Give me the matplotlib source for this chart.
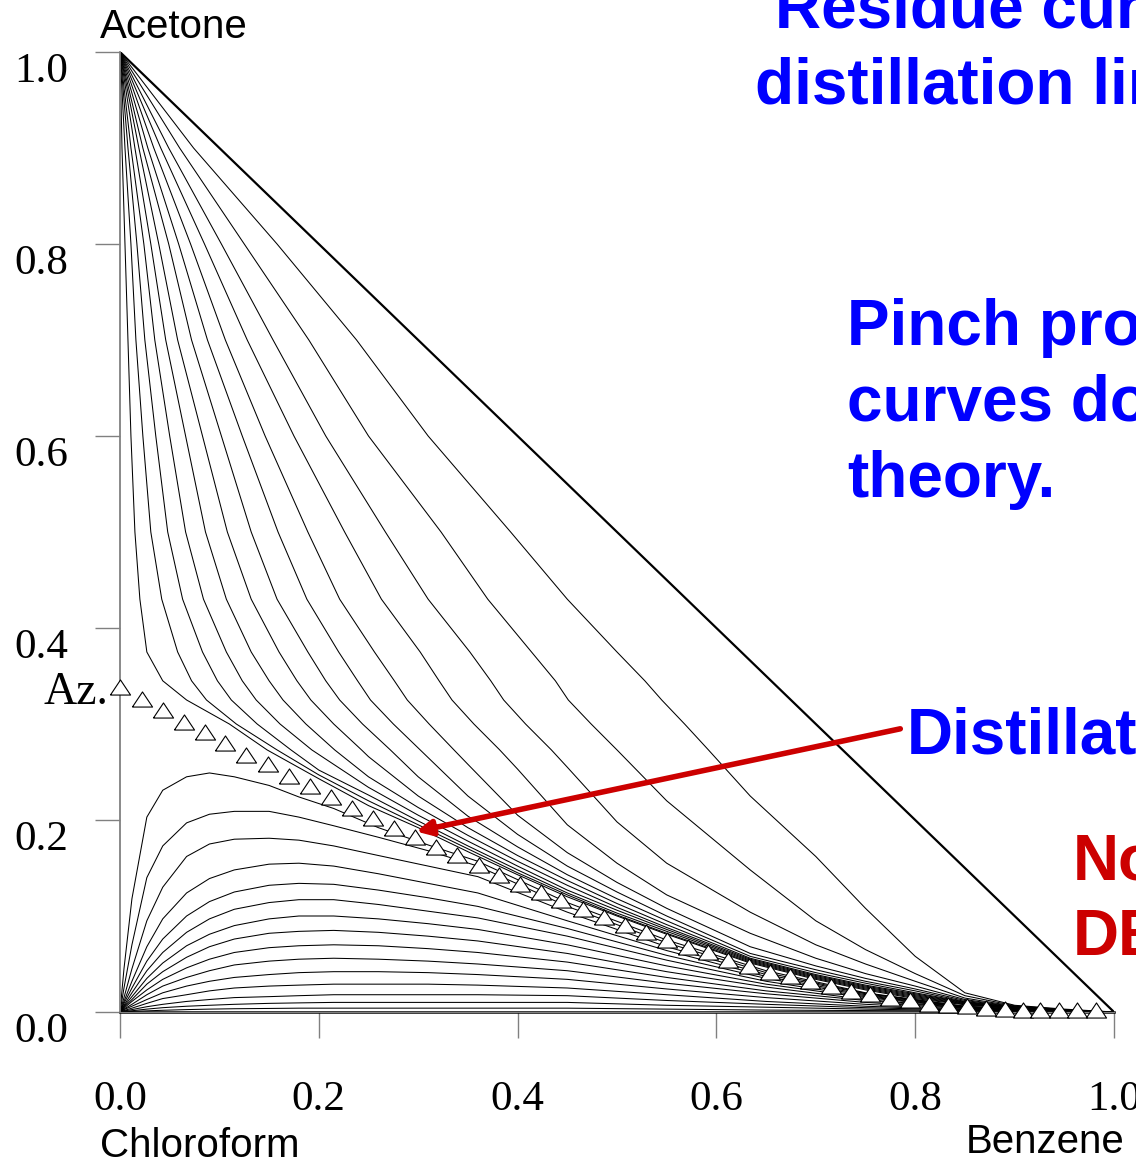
import matplotlib
matplotlib.use('Agg')
import matplotlib.pyplot as plt
import numpy as np

# distillation boundary points (triangles): benzene fraction, acetone fraction
bound_x = [0.0, 0.022, 0.043, 0.064, 0.086, 0.106, 0.127, 0.149, 0.170, 0.191, 0.212, 0.233,
           0.255, 0.276, 0.297, 0.318, 0.339, 0.361, 0.381, 0.402, 0.424, 0.444, 0.466, 0.487,
           0.508, 0.529, 0.550, 0.571, 0.592, 0.612, 0.633, 0.654, 0.674, 0.694, 0.715, 0.735,
           0.755, 0.775, 0.795, 0.814, 0.833, 0.852, 0.871, 0.890, 0.908, 0.926, 0.945, 0.963, 0.982]
bound_y = [0.339, 0.326, 0.315, 0.302, 0.292, 0.280, 0.268, 0.258, 0.246, 0.235, 0.224, 0.212,
           0.202, 0.192, 0.182, 0.172, 0.164, 0.153, 0.143, 0.133, 0.125, 0.117, 0.107, 0.099,
           0.091, 0.083, 0.075, 0.068, 0.062, 0.054, 0.048, 0.042, 0.038, 0.032, 0.027, 0.022,
           0.019, 0.015, 0.013, 0.008, 0.007, 0.006, 0.004, 0.003, 0.002, 0.002, 0.002, 0.002, 0.002]

# residue curves leaving acetone
# upper part: benzene fraction read at fixed acetone levels
acet_y_levels = [1.0, 0.9, 0.8, 0.7, 0.6, 0.5, 0.43, 0.375, 0.345, 0.325, 0.3, 0.273]
acet_upper = [
    [0, 0.002, 0.005, 0.008, 0.011, 0.015, 0.020, 0.027, 0.043, 0.067, 0.110, 0.148],
    [0, 0.005, 0.011, 0.016, 0.023, 0.031, 0.042, 0.058, 0.072, 0.087, 0.117, 0.158],
    [0, 0.008, 0.017, 0.025, 0.036, 0.048, 0.063, 0.083, 0.098, 0.112, 0.138, 0.172],
    [0, 0.011, 0.024, 0.035, 0.050, 0.066, 0.084, 0.107, 0.123, 0.137, 0.161, 0.193],
    [0, 0.015, 0.031, 0.046, 0.066, 0.086, 0.107, 0.132, 0.150, 0.164, 0.187, 0.216],
    [0, 0.019, 0.039, 0.058, 0.083, 0.108, 0.132, 0.160, 0.178, 0.192, 0.215, 0.243],
    [0, 0.023, 0.049, 0.072, 0.102, 0.132, 0.158, 0.189, 0.207, 0.221, 0.244, 0.272],
    [0, 0.028, 0.059, 0.088, 0.123, 0.159, 0.188, 0.220, 0.239, 0.252, 0.275, 0.302],
    [0, 0.034, 0.071, 0.106, 0.146, 0.189, 0.221, 0.256, 0.276, 0.289, 0.311, 0.336],
    [0, 0.041, 0.085, 0.128, 0.175, 0.226, 0.263, 0.302, 0.321, 0.334, 0.356, 0.382],
    [0, 0.049, 0.102, 0.154, 0.207, 0.267, 0.310, 0.352, 0.373, 0.386, 0.408, 0.434],
    [0, 0.060, 0.125, 0.190, 0.250, 0.323, 0.370, 0.414, 0.438, 0.451, 0.474, 0.500],
    [0, 0.074, 0.158, 0.238, 0.310, 0.393, 0.450, 0.500, 0.528, 0.545, 0.568, 0.592],
]
# lower part: acetone fraction read at fixed benzene levels (nan = left of the upper part)
acet_x_levels = [0.2, 0.25, 0.3, 0.35, 0.4, 0.45, 0.5, 0.55, 0.634, 0.7, 0.75, 0.8,
                 0.85, 0.9, 0.95, 1.0]
nan = np.nan
acet_lower = [
    [0.243, 0.215, 0.192, 0.167, 0.143, 0.120, 0.100, 0.081, 0.051, 0.034, 0.023, 0.014, 0.0075, 0.0035, 0.0013, 0],
    [0.247, 0.220, 0.195, 0.170, 0.145, 0.122, 0.101, 0.082, 0.052, 0.035, 0.024, 0.015, 0.0080, 0.0037, 0.0014, 0],
    [0.252, 0.226, 0.199, 0.173, 0.148, 0.124, 0.103, 0.084, 0.053, 0.036, 0.025, 0.016, 0.0085, 0.0039, 0.0015, 0],
    [nan, 0.234, 0.205, 0.178, 0.152, 0.127, 0.106, 0.086, 0.054, 0.037, 0.026, 0.017, 0.0090, 0.0041, 0.0016, 0],
    [nan, 0.245, 0.213, 0.184, 0.157, 0.132, 0.109, 0.088, 0.055, 0.038, 0.027, 0.018, 0.0095, 0.0043, 0.0017, 0],
    [nan, 0.266, 0.225, 0.192, 0.163, 0.137, 0.113, 0.091, 0.056, 0.039, 0.028, 0.019, 0.0100, 0.0045, 0.0018, 0],
    [nan, nan, 0.245, 0.204, 0.172, 0.143, 0.118, 0.095, 0.058, 0.041, 0.030, 0.020, 0.0105, 0.0047, 0.0019, 0],
    [nan, nan, nan, 0.225, 0.185, 0.152, 0.125, 0.100, 0.061, 0.044, 0.032, 0.022, 0.0110, 0.0049, 0.0020, 0],
    [nan, nan, nan, 0.258, 0.205, 0.166, 0.135, 0.108, 0.068, 0.048, 0.035, 0.024, 0.0120, 0.0052, 0.0021, 0],
    [nan, nan, nan, nan, 0.253, 0.195, 0.155, 0.122, 0.082, 0.056, 0.040, 0.027, 0.0130, 0.0055, 0.0022, 0],
    [nan, nan, nan, nan, nan, 0.255, 0.198, 0.155, 0.104, 0.070, 0.050, 0.032, 0.0145, 0.0060, 0.0023, 0],
    [nan, nan, nan, nan, nan, nan, nan, 0.220, 0.148, 0.095, 0.065, 0.040, 0.0170, 0.0065, 0.0025, 0],
    [nan, nan, nan, nan, nan, nan, nan, nan, 0.225, 0.162, 0.108, 0.058, 0.0200, 0.0070, 0.0030, 0],
]

# residue curves leaving chloroform: acetone fraction read at fixed benzene levels
chl_x_levels = [0.0, 0.004, 0.012, 0.027, 0.043, 0.067, 0.09, 0.115, 0.15, 0.18, 0.215,
                0.26, 0.31, 0.36, 0.45, 0.55, 0.65, 0.75, 0.85, 0.92, 1.0]
chl_curves = [
    [0, 0.045, 0.118, 0.203, 0.231, 0.245, 0.249, 0.245, 0.236, 0.224, 0.212, 0.192, 0.174, 0.157, 0.114, 0.075, 0.043, 0.0200, 0.0060, 0.0020, 0],
    [0, 0.025, 0.070, 0.140, 0.173, 0.197, 0.206, 0.209, 0.209, 0.203, 0.194, 0.182, 0.168, 0.152, 0.110, 0.072, 0.041, 0.0195, 0.0058, 0.0020, 0],
    [0, 0.015, 0.045, 0.095, 0.130, 0.162, 0.175, 0.180, 0.181, 0.179, 0.173, 0.163, 0.152, 0.141, 0.104, 0.068, 0.039, 0.0190, 0.0056, 0.0019, 0],
    [0, 0.011, 0.032, 0.068, 0.097, 0.124, 0.139, 0.148, 0.154, 0.155, 0.152, 0.144, 0.134, 0.124, 0.095, 0.064, 0.037, 0.0180, 0.0054, 0.0018, 0],
    [0, 0.009, 0.025, 0.053, 0.076, 0.100, 0.115, 0.125, 0.132, 0.134, 0.133, 0.127, 0.119, 0.110, 0.087, 0.059, 0.035, 0.0170, 0.0052, 0.0017, 0],
    [0, 0.007, 0.020, 0.043, 0.062, 0.083, 0.097, 0.107, 0.114, 0.117, 0.117, 0.112, 0.105, 0.098, 0.079, 0.054, 0.032, 0.0160, 0.0050, 0.0016, 0],
    [0, 0.006, 0.016, 0.035, 0.051, 0.069, 0.081, 0.090, 0.097, 0.100, 0.100, 0.097, 0.092, 0.086, 0.070, 0.048, 0.029, 0.0150, 0.0047, 0.0015, 0],
    [0, 0.005, 0.013, 0.029, 0.042, 0.057, 0.068, 0.076, 0.082, 0.084, 0.085, 0.083, 0.079, 0.074, 0.061, 0.042, 0.026, 0.0130, 0.0044, 0.0014, 0],
    [0, 0.004, 0.011, 0.023, 0.034, 0.046, 0.055, 0.062, 0.067, 0.069, 0.070, 0.069, 0.066, 0.062, 0.052, 0.036, 0.022, 0.0120, 0.0040, 0.0013, 0],
    [0, 0.003, 0.008, 0.018, 0.027, 0.036, 0.043, 0.049, 0.053, 0.055, 0.056, 0.055, 0.053, 0.050, 0.043, 0.030, 0.019, 0.0100, 0.0036, 0.0012, 0],
    [0, 0.0025, 0.006, 0.013, 0.020, 0.027, 0.032, 0.036, 0.039, 0.041, 0.042, 0.042, 0.041, 0.039, 0.034, 0.024, 0.015, 0.0080, 0.0030, 0.0010, 0],
    [0, 0.0015, 0.004, 0.009, 0.014, 0.018, 0.022, 0.025, 0.027, 0.028, 0.029, 0.029, 0.029, 0.028, 0.025, 0.018, 0.011, 0.0060, 0.0025, 0.0009, 0],
    [0, 0.001, 0.0025, 0.0055, 0.008, 0.011, 0.013, 0.015, 0.016, 0.017, 0.018, 0.018, 0.018, 0.018, 0.017, 0.012, 0.008, 0.0045, 0.0020, 0.0007, 0],
    [0, 0.0005, 0.0013, 0.003, 0.0045, 0.006, 0.007, 0.008, 0.009, 0.0095, 0.010, 0.010, 0.010, 0.010, 0.010, 0.007, 0.005, 0.0030, 0.0015, 0.0005, 0],
    [0, 0.0002, 0.0006, 0.0012, 0.0018, 0.0025, 0.003, 0.0034, 0.0037, 0.004, 0.004, 0.004, 0.004, 0.004, 0.004, 0.003, 0.002, 0.0015, 0.0010, 0.0003, 0],
]

ticks = [0.0, 0.2, 0.4, 0.6, 0.8, 1.0]
tick_labels = ['0.0', '0.2', '0.4', '0.6', '0.8', '1.0']

blue = '#0000ff'
red = '#cc0000'
grey = '#808080'

fig = plt.figure(figsize=(11.36, 11.6), dpi=100)
ax = fig.add_axes([120 / 1136, 148 / 1160, 994 / 1136, 960 / 1160])
ax.set_xlim(0, 1)
ax.set_ylim(0, 1)

for up, low in zip(acet_upper, acet_lower):
    xs = list(up)
    ys = list(acet_y_levels)
    for xl, yl in zip(acet_x_levels, low):
        if not np.isnan(yl):
            xs.append(xl)
            ys.append(yl)
    ax.plot(xs, ys, color='black', lw=0.75)
for ys in chl_curves:
    ax.plot(chl_x_levels, ys, color='black', lw=0.75)

# triangle edges
ax.plot([0, 1], [1, 0], color='black', lw=1.6)
ax.plot([0, 1], [0, 0], color='black', lw=1.8, clip_on=False)

# flattened open triangle, a bit wider than tall
tri = [(-1, -0.75), (1, -0.75), (0, 0.75), (-1, -0.75)]
ax.plot(bound_x, bound_y, ls='none', marker=tri, ms=14.5, mfc='white', mec='black',
        mew=0.8, clip_on=False, zorder=5)

for s in ['top', 'right']:
    ax.spines[s].set_visible(False)
ax.spines['left'].set_color(grey)
ax.spines['left'].set_linewidth(1.3)
ax.spines['bottom'].set_color(grey)

ax.set_xticks(ticks)
ax.set_yticks(ticks)
ax.set_xticklabels(tick_labels, family='Liberation Serif', fontsize=31)
ax.set_yticklabels(tick_labels, family='Liberation Serif', fontsize=31, va='top')
ax.tick_params(axis='x', direction='out', length=19, width=1, color=grey, pad=30)
ax.tick_params(axis='y', direction='out', length=18, width=1, color=grey, pad=19)

ax.text(-0.012, 0.333, 'Az.', family='Liberation Serif', fontsize=33, ha='right', va='center')

sans = 'Liberation Sans'
fig.text(100 / 1136, 1 - 38 / 1160, 'Acetone', family=sans, fontsize=29)
fig.text(100 / 1136, 1 - 1157 / 1160, 'Chloroform', family=sans, fontsize=29)
fig.text(966 / 1136, 1 - 1153 / 1160, 'Benzene', family=sans, fontsize=29)

fig.text(775 / 1136, 1 - 28 / 1160, 'Residue cur', family=sans, fontsize=46,
         weight='bold', color=blue)
fig.text(755 / 1136, 1 - 104 / 1160, 'distillation lin', family=sans, fontsize=46,
         weight='bold', color=blue)
fig.text(847 / 1136, 1 - 345 / 1160, 'Pinch pro', family=sans, fontsize=46,
         weight='bold', color=blue)
fig.text(847 / 1136, 1 - 421 / 1160, 'curves do', family=sans, fontsize=46,
         weight='bold', color=blue)
fig.text(847 / 1136, 1 - 497 / 1160, 'theory.', family=sans, fontsize=46,
         weight='bold', color=blue)
fig.text(907 / 1136, 1 - 753 / 1160, 'Distillat', family=sans, fontsize=46,
         weight='bold', color=blue)
fig.text(1073 / 1136, 1 - 880 / 1160, 'No', family=sans, fontsize=46,
         weight='bold', color=red)
fig.text(1073 / 1136, 1 - 955 / 1160, 'DE', family=sans, fontsize=46,
         weight='bold', color=red)

ax.annotate('', xy=(0.298, 0.188), xytext=(0.785, 0.295),
            arrowprops=dict(arrowstyle='-|>,head_length=0.9,head_width=0.45',
                            color=red, lw=4, shrinkA=0, shrinkB=0))

fig.savefig('out.png', dpi=100)
